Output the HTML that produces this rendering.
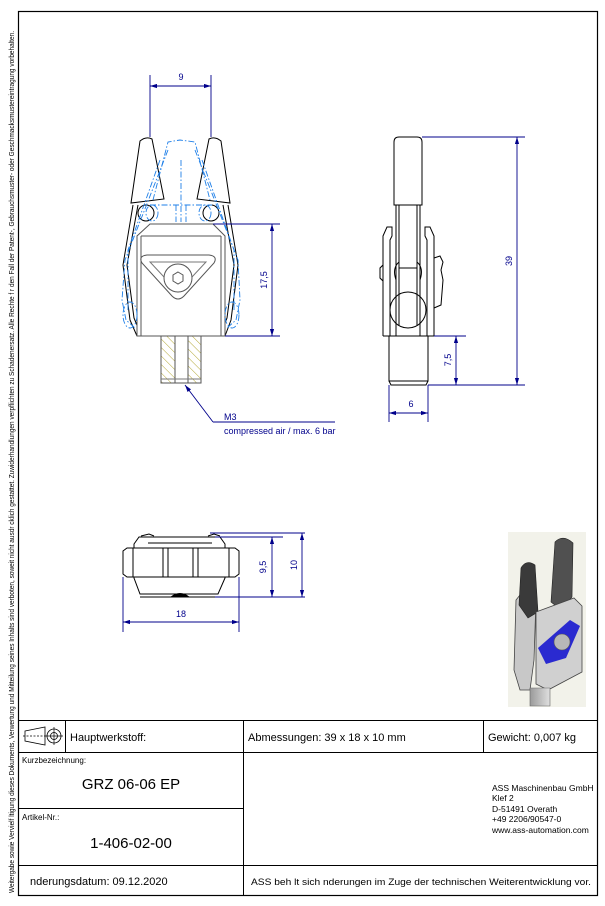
<!DOCTYPE html>
<html><head><meta charset="utf-8"><style>
html,body{margin:0;padding:0;background:#fff;}
svg{display:block;font-family:"Liberation Sans",sans-serif;}
</style></head><body>
<svg width="605" height="906" viewBox="0 0 605 906" xmlns="http://www.w3.org/2000/svg">
<defs>
<marker id="a" viewBox="0 0 10 6" refX="10" refY="3" markerWidth="8" markerHeight="5" orient="auto-start-reverse"><path d="M0,0 L10,3 L0,6 z" fill="#00008b"/></marker>
<pattern id="h" width="6" height="6" patternUnits="userSpaceOnUse" patternTransform="rotate(-45)"><line x1="0" y1="0" x2="0" y2="6" stroke="#a09000" stroke-width="0.8"/></pattern>
<linearGradient id="g1" x1="0" x2="1"><stop offset="0" stop-color="#9a9a9a"/><stop offset="1" stop-color="#e0e0e0"/></linearGradient>
</defs>
<rect x="0" y="0" width="605" height="906" fill="#fff"/>
<rect x="18.5" y="11.5" width="579" height="884" fill="none" stroke="#000" stroke-width="1.2"/>
<text transform="translate(14,893) rotate(-90)" font-size="7" fill="#000" textLength="862" lengthAdjust="spacingAndGlyphs">Weitergabe sowie Vervielf ltigung dieses Dokuments, Verwertung und Mitteilung seines Inhalts sind verboten, soweit nicht ausdr cklich gestattet. Zuwiderhandlungen verpflichten zu Schadenersatz. Alle Rechte f r den Fall der Patent-, Gebrauchsmuster- oder Geschmacksmustereintragung vorbehalten.</text>

<!-- FRONT VIEW -->
<g stroke="#000" stroke-width="1" fill="none">
<path d="M133,205 L123,265 L130,320 L137,336"/>
<path d="M138,205 L127,265 L134,318 L139,330"/>
<path d="M228,205 L238,265 L231,320 L225,336"/>
<path d="M223,205 L234,265 L227,318 L222,330"/>
<path d="M131,203 L140,141 Q146,136 152,139 L164,199 Z" fill="#fff"/>
<path d="M230,203 L221,141 Q215,136 209,139 L197,199 Z" fill="#fff"/>
<circle cx="146" cy="213" r="8"/>
<circle cx="211" cy="213" r="8"/>
<path d="M150,224 L213,224 L225,236 L225,336 L137,336 L137,236 Z" fill="#fff" stroke="#555"/>
<line x1="141" y1="236" x2="141" y2="336" stroke="#555"/>
<line x1="221" y1="236" x2="221" y2="336" stroke="#555"/>
<line x1="141" y1="236" x2="221" y2="236" stroke="#555"/>
<path d="M142,263 Q138,256 147,255 L209,255 Q218,256 214,263 L184,296 Q178,302 172,296 Z" stroke="#555"/>
<path d="M150,262 L206,262 L178,292 Z" stroke="#777"/>
<circle cx="178" cy="278" r="14" fill="#fff" stroke="#555"/>
<path d="M178,272 L183,275 L183,281 L178,284 L173,281 L173,275 Z" stroke="#555"/>
<rect x="161" y="336" width="40" height="47" fill="url(#h)" stroke="#555"/>
<rect x="175" y="336" width="13" height="47" fill="#fff" stroke="#555"/>
<line x1="161" y1="379" x2="201" y2="379" stroke="#777"/>
</g>
<g stroke="#1e7fe8" stroke-width="0.9" fill="none" stroke-dasharray="6,2,1.5,2">
<path d="M153,200 L168,142 L180,140 L195,142 L210,200"/>
<line x1="181" y1="160" x2="181" y2="222"/>
<line x1="176" y1="205" x2="176" y2="222"/><line x1="186" y1="205" x2="186" y2="222"/>
<line x1="150" y1="205" x2="212" y2="205"/>
<path d="M168,150 L125,260 L122,300 L126,320 L135,328"/>
<path d="M195,150 L238,260 L240,300 L236,320 L227,328"/>
<path d="M160,160 L128,250 L128,310"/>
<path d="M202,160 L234,250 L234,310"/>
<ellipse cx="130" cy="315" rx="7" ry="13"/>
<ellipse cx="232" cy="315" rx="7" ry="13"/>
<ellipse cx="152" cy="213" rx="6" ry="8"/>
<ellipse cx="205" cy="213" rx="6" ry="8"/>
</g>
<g stroke="#00008b" stroke-width="0.9" fill="none">
<line x1="150" y1="75" x2="150" y2="137"/><line x1="211" y1="75" x2="211" y2="137"/>
<line x1="150" y1="86" x2="211" y2="86" marker-start="url(#a)" marker-end="url(#a)"/>
<line x1="213" y1="224" x2="280" y2="224"/><line x1="225" y1="336" x2="280" y2="336"/>
<line x1="272" y1="224" x2="272" y2="336" marker-start="url(#a)" marker-end="url(#a)"/>
<line x1="213" y1="422" x2="185" y2="385" marker-end="url(#a)"/>
<line x1="213" y1="422" x2="335" y2="422"/>
</g>
<g fill="#00008b" font-size="9">
<text x="181" y="80" text-anchor="middle">9</text>
<text transform="translate(267,280) rotate(-90)" text-anchor="middle">17,5</text>
<text x="224" y="420">M3</text>
<text x="224" y="434">compressed air / max. 6 bar</text>
</g>

<!-- SIDE VIEW -->
<g stroke="#000" stroke-width="1" fill="none">
<path d="M394,205 L394,142 Q394,137 399,137 L417,137 Q422,137 422,142 L422,205 Z" fill="#fff"/>
<line x1="396" y1="205" x2="396" y2="336"/><line x1="420" y1="205" x2="420" y2="336"/>
<line x1="399" y1="205" x2="399" y2="325"/><line x1="417" y1="205" x2="417" y2="325"/>
<path d="M383,336 L383,236 L387,227 L392,227 L392,236 L390,240 L390,336"/>
<path d="M434,336 L434,236 L430,227 L425,227 L425,236 L427,240 L427,336"/>
<line x1="383" y1="336" x2="434" y2="336"/>
<line x1="399" y1="268" x2="417" y2="268"/>
<circle cx="408" cy="310" r="18"/>
<path d="M396,280 Q392,268 399,262"/><path d="M420,280 Q424,268 417,262"/>
<path d="M383,265 L380,268 L380,278 L383,281"/>
<path d="M434,258 L440,256 L443,262 L441,270 L443,280 L441,305 L434,308"/>
<rect x="389" y="336" width="39" height="45"/>
<path d="M389,381 L391,385 L426,385 L428,381"/>
</g>
<g stroke="#00008b" stroke-width="0.9" fill="none">
<line x1="422" y1="137" x2="525" y2="137"/><line x1="428" y1="385" x2="525" y2="385"/>
<line x1="517" y1="137" x2="517" y2="385" marker-start="url(#a)" marker-end="url(#a)"/>
<line x1="434" y1="336" x2="466" y2="336"/>
<line x1="456" y1="336" x2="456" y2="385" marker-start="url(#a)" marker-end="url(#a)"/>
<line x1="389" y1="385" x2="389" y2="422"/><line x1="428" y1="385" x2="428" y2="422"/>
<line x1="389" y1="413" x2="428" y2="413" marker-start="url(#a)" marker-end="url(#a)"/>
</g>
<g fill="#00008b" font-size="9">
<text transform="translate(512,261) rotate(-90)" text-anchor="middle">39</text>
<text transform="translate(451,360) rotate(-90)" text-anchor="middle">7,5</text>
<text x="411" y="407" text-anchor="middle">6</text>
</g>

<!-- BOTTOM VIEW -->
<g stroke="#000" stroke-width="1" fill="none">
<path d="M141,536 L149,534 L154,536"/><path d="M208,536 L214,534 L220,536"/>
<path d="M139,537 L220,537 L225,544 L225,578 L218,594 L140,594 L134,578 L134,544 Z" fill="#fff"/>
<line x1="148" y1="543" x2="212" y2="543"/><line x1="148" y1="577" x2="212" y2="577"/>
<path d="M123,551 L123,574 L127,577 L133,577 L133,548 L127,548 Z" fill="#fff"/>
<path d="M239,551 L239,574 L235,577 L229,577 L229,548 L235,548 Z" fill="#fff"/>
<rect x="133" y="548" width="96" height="29" fill="#fff"/>
<line x1="163" y1="548" x2="163" y2="577"/><line x1="168" y1="548" x2="168" y2="577"/>
<line x1="193" y1="548" x2="193" y2="577"/><line x1="198" y1="548" x2="198" y2="577"/>
<path d="M171,597 Q180,590 189,597" fill="#000"/>
<line x1="140" y1="597" x2="218" y2="597"/>
</g>
<g stroke="#00008b" stroke-width="0.9" fill="none">
<line x1="123" y1="577" x2="123" y2="632"/><line x1="239" y1="577" x2="239" y2="632"/>
<line x1="123" y1="622" x2="239" y2="622" marker-start="url(#a)" marker-end="url(#a)"/>
<line x1="215" y1="537" x2="283" y2="537"/><line x1="210" y1="533" x2="305" y2="533"/>
<line x1="215" y1="597" x2="305" y2="597"/>
<line x1="272" y1="537" x2="272" y2="597" marker-start="url(#a)" marker-end="url(#a)"/>
<line x1="302" y1="533" x2="302" y2="597" marker-start="url(#a)" marker-end="url(#a)"/>
</g>
<g fill="#00008b" font-size="9">
<text x="181" y="617" text-anchor="middle">18</text>
<text transform="translate(266,567) rotate(-90)" text-anchor="middle">9,5</text>
<text transform="translate(297,565) rotate(-90)" text-anchor="middle">10</text>
</g>

<!-- PHOTO -->
<rect x="508" y="532" width="78" height="175" fill="#f2f2ea"/>
<path d="M514,670 L516,600 L524,590 L536,600 L534,660 L530,690 L520,690 Z" fill="#c8c8c8" stroke="#444" stroke-width="0.8"/>
<path d="M519,605 L521,568 Q526,559 535,565 L538,612 L528,618 Z" fill="#3a3a3a" stroke="#222" stroke-width="0.6"/>
<path d="M551,602 L555,542 Q563,534 573,543 L572,597 L561,610 Z" fill="#505050" stroke="#222" stroke-width="0.6"/>
<path d="M536,612 L574,598 L582,606 L582,672 L548,690 L536,684 Z" fill="#d0d0d0" stroke="#444" stroke-width="0.8"/>
<path d="M538,648 L570,620 L580,626 L566,658 L546,664 Z" fill="#2a2ad0"/>
<circle cx="562" cy="642" r="8" fill="#b8b8b8" stroke="#555" stroke-width="0.6"/>
<path d="M530,688 L550,688 L550,706 L530,706 Z" fill="url(#g1)" stroke="#666" stroke-width="0.6"/>

<!-- TITLE BLOCK -->
<g stroke="#000" stroke-width="1" fill="none">
<line x1="18" y1="720.5" x2="598" y2="720.5"/>
<line x1="18" y1="752.5" x2="598" y2="752.5"/>
<line x1="18" y1="808.5" x2="243" y2="808.5"/>
<line x1="18" y1="865.5" x2="598" y2="865.5"/>
<line x1="65.5" y1="720" x2="65.5" y2="752"/>
<line x1="243.5" y1="720" x2="243.5" y2="896"/>
<line x1="483.5" y1="720" x2="483.5" y2="752"/>
<path d="M25,731 L45,727 L45,745 L25,741 Z" stroke-width="0.8"/>
<line x1="23" y1="736" x2="45" y2="736" stroke-dasharray="2,1.5" stroke-width="0.7"/>
<circle cx="54" cy="736" r="7" stroke-width="0.8"/>
<circle cx="54" cy="736" r="3.5" stroke-width="0.8"/>
<line x1="45" y1="736" x2="63" y2="736" stroke-width="0.7"/>
<line x1="54" y1="727" x2="54" y2="745" stroke-width="0.7"/>
</g>
<g fill="#000">
<text x="70" y="741" font-size="11">Hauptwerkstoff:</text>
<text x="248" y="741" font-size="11">Abmessungen: 39 x 18 x 10 mm</text>
<text x="488" y="741" font-size="11">Gewicht: 0,007 kg</text>
<text x="22" y="763" font-size="8">Kurzbezeichnung:</text>
<text x="131" y="789" font-size="15" text-anchor="middle">GRZ 06-06 EP</text>
<text x="22" y="820" font-size="8">Artikel-Nr.:</text>
<text x="131" y="848" font-size="15" text-anchor="middle">1-406-02-00</text>
<g font-size="8.5">
<text x="492" y="791">ASS Maschinenbau GmbH</text>
<text x="492" y="801">Klef 2</text>
<text x="492" y="812">D-51491 Overath</text>
<text x="492" y="822">+49 2206/90547-0</text>
<text x="492" y="833">www.ass-automation.com</text>
</g>
<text x="30" y="885" font-size="11">nderungsdatum: 09.12.2020</text>
<text x="251" y="885" font-size="9.5" textLength="340" lengthAdjust="spacingAndGlyphs">ASS beh  lt sich   nderungen im Zuge der technischen Weiterentwicklung vor.</text>
</g>
</svg>
</body></html>
